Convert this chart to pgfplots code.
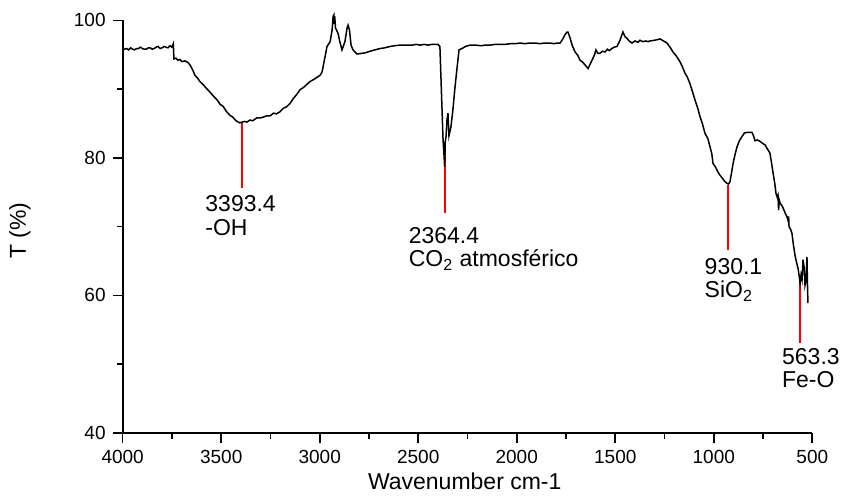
\documentclass[border=0pt]{standalone}
\usepackage{pgfplots}
\pgfplotsset{compat=1.18}
\usepackage{fontspec}
\setmainfont{Liberation Sans}
\begin{document}
\begin{tikzpicture}
\path[use as bounding box] (-61.35pt,-31pt) rectangle (359.65pt,216.5pt);
\begin{axis}[
  at={(0,0)}, anchor=south west,
  scale only axis, width=344.8pt, height=206.35pt,
  x dir=reverse, xmin=500, xmax=4000, ymin=40, ymax=100,
  axis x line*=bottom, axis y line*=left,
  axis line style={line width=0.9pt, -},
  xtick={500,1000,...,4000}, ytick={40,60,80,100},
  minor x tick num=1, minor y tick num=1,
  tick align=outside,
  major tick length=5pt, minor tick length=3pt,
  every tick/.style={black, line width=0.8pt},
  ticklabel style={font=\fontsize{9.5}{10}\selectfont},
  /pgf/number format/assume math mode=true,
  /pgf/number format/set thousands separator={},
  clip=false,
  xlabel={Wavenumber cm-1}, ylabel={T (\%)},
  label style={font=\fontsize{11.5}{12}\selectfont},
  xlabel style={at={(axis description cs:0.496,-0.118)}, anchor=center},
  ylabel style={at={(axis description cs:-0.149,0.49)}, anchor=center},
]
\addplot[red, line width=1pt, forget plot] coordinates {(3393.4,85.2) (3393.4,75.6)};
\addplot[red, line width=1pt, forget plot] coordinates {(2364.4,82.3) (2364.4,72.0)};
\addplot[red, line width=1pt, forget plot] coordinates {(929.6,76.0) (929.6,66.6)};
\addplot[red, line width=1pt, forget plot] coordinates {(563.3,61.8) (563.3,53.1)};
\addplot[black, line width=0.75pt] coordinates {
(4000,95.9) (3990,95.8) (3980,95.9) (3970,95.7) (3960,96.0) (3950,95.8) (3940,95.7)
(3930,95.9) (3920,95.9) (3910,96.1) (3900,95.9) (3890,95.8) (3880,95.8) (3870,96.0)
(3860,96.0) (3850,95.8) (3840,95.9) (3830,96.1) (3820,96.2) (3810,95.9) (3800,96.0)
(3790,96.2) (3780,96.1) (3770,96.0) (3760,96.3) (3750,96.1) (3743,96.6) (3740,94.4)
(3730,94.5) (3720,94.2) (3709,94.3) (3700,94.0) (3684,94.1) (3670,93.9) (3658,93.5)
(3645,92.8) (3633,92.0) (3620,91.6) (3608,91.1) (3590,90.6) (3575,90.1) (3558,89.6)
(3540,89.0) (3520,88.4) (3506,87.8) (3490,87.5) (3475,86.8) (3456,86.2) (3440,85.9)
(3425,85.4) (3406,85.1) (3395,85.2) (3380,85.3) (3370,85.2) (3354,85.5) (3340,85.4)
(3320,85.8) (3303,85.8) (3290,85.9) (3270,86.1) (3252,86.1) (3235,86.5) (3220,86.4)
(3202,86.7) (3185,87.2) (3170,87.4) (3151,87.9) (3135,88.6) (3120,89.1) (3100,89.9)
(3080,90.3) (3065,90.7) (3049,91.1) (3030,91.4) (3015,91.7) (2998,92.0) (2988,92.5)
(2973,94.7) (2963,96.2) (2947,96.9) (2937,98.6) (2932,100.6) (2928,100.8) (2926,99.5)
(2924,100.6) (2920,98.9) (2907,98.1) (2897,96.8) (2887,95.7) (2872,96.9) (2861,98.9)
(2856,99.3) (2849,98.6) (2841,96.4) (2831,95.7) (2811,95.1) (2786,95.2) (2765,95.3)
(2745,95.5) (2720,95.7) (2694,95.9) (2670,96.0) (2643,96.2) (2620,96.3) (2593,96.4)
(2560,96.4) (2530,96.4) (2510,96.5) (2491,96.4) (2470,96.5) (2450,96.4) (2430,96.5)
(2415,96.5) (2400,96.5) (2390,96.2) (2382,89.4) (2374,82.6) (2369,80.4) (2366,78.7)
(2363,82.3) (2359,83.1) (2354,85.5) (2349,86.5) (2344,83.2) (2334,84.5) (2324,87.0)
(2314,90.1) (2304,92.8) (2293,95.7) (2278,95.9) (2260,96.2) (2237,96.4) (2210,96.4)
(2180,96.3) (2160,96.4) (2135,96.4) (2110,96.5) (2080,96.5) (2060,96.5) (2033,96.6)
(2010,96.6) (1980,96.7) (1960,96.6) (1932,96.7) (1910,96.7) (1880,96.6) (1860,96.7)
(1831,96.7) (1810,96.6) (1795,96.7) (1780,96.7) (1768,97.2) (1755,97.9) (1745,98.3)
(1740,98.3) (1730,97.5) (1719,96.4) (1704,95.4) (1690,94.9) (1679,94.2) (1665,93.9)
(1653,93.5) (1638,93.0) (1628,93.6) (1618,94.2) (1605,95.0) (1598,95.7) (1588,95.2)
(1578,95.2) (1565,95.5) (1552,95.4) (1540,95.8) (1530,95.6) (1517,95.9) (1505,96.1)
(1491,96.2) (1476,97.1) (1461,98.3) (1450,97.6) (1441,97.4) (1430,97.0) (1415,96.7)
(1400,97.0) (1385,96.8) (1375,97.1) (1360,96.9) (1345,97.0) (1334,96.9) (1324,97.0)
(1300,97.1) (1285,97.2) (1273,97.3) (1255,97.0) (1237,96.7) (1220,96.0) (1207,95.4)
(1190,94.8) (1172,94.0) (1160,93.3) (1146,92.3) (1135,91.8) (1121,90.8) (1110,89.8)
(1095,88.4) (1080,87.1) (1070,86.0) (1058,85.0) (1045,83.6) (1030,82.8) (1019,81.6)
(1010,80.6) (1004,79.2) (990,78.6) (980,78.0) (969,77.5) (955,77.0) (945,76.6)
(933,76.3) (925,76.2) (918,76.5) (910,77.8) (902,79.2) (892,80.5) (882,81.6)
(870,82.5) (857,83.1) (845,83.6) (832,83.7) (818,83.7) (806,83.7) (798,83.2)
(791,82.5) (778,82.6) (765,82.4) (752,82.1) (740,81.9) (728,81.3) (715,80.7)
(707,79.3) (699,77.8) (690,76.2) (684,74.8) (678,74.3) (674,74.6) (671,72.4) (668,73.9)
(663,73.4) (655,73.1) (648,72.7) (638,72.0) (628,71.4) (622,70.8) (620,71.5) (618,70.0)
(610,69.6) (603,69.0) (596,67.4) (588,65.9) (580,64.8) (572,63.9) (566,62.7)
(562,61.8) (557,63.0) (552,62.3) (547,65.2) (542,64.2) (537,61.5) (532,62.3)
(527,65.6) (524,61.0) (522,58.9)
};
\begin{scope}[every node/.style={anchor=north west, align=left, inner sep=0pt, font=\fontsize{11.5}{11.8}\selectfont}]
\node at (axis cs:3582,74.6) {3393.4\\-OH};
\node at (axis cs:2550,70.0) {2364.4\\CO\textsubscript{2} atmosférico};
\node at (axis cs:1048,65.5) {930.1\\SiO\textsubscript{2}};
\node at (axis cs:655,52.4) {563.3\\Fe-O};
\end{scope}
\end{axis}
\end{tikzpicture}
\end{document}
